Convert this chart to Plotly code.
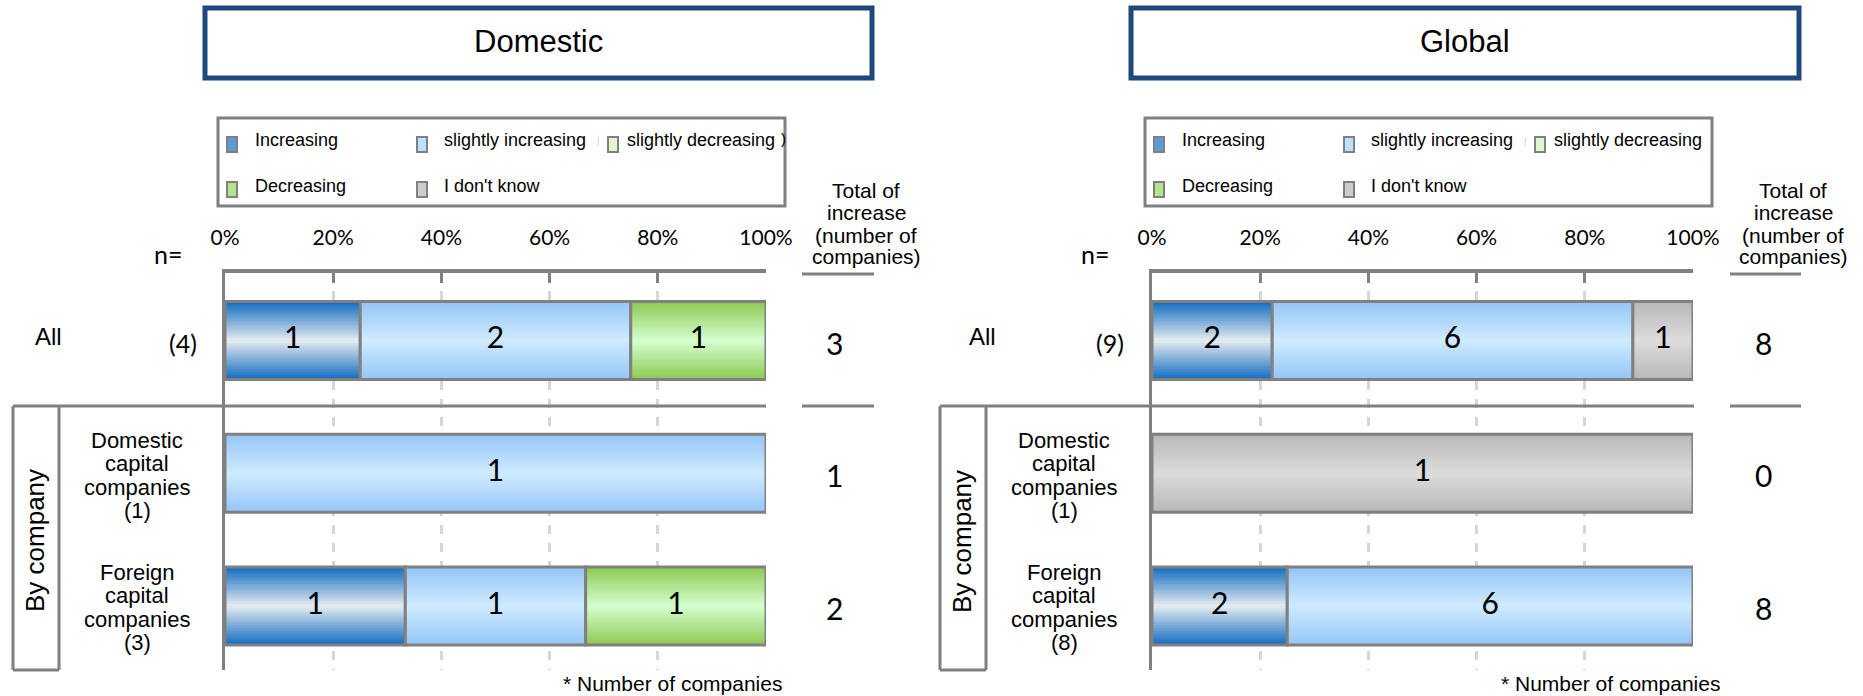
import plotly.graph_objects as go

W, H = 1863, 696

# ---------------- data ----------------
row_labels = ["All", "Domestic capital companies", "Foreign capital companies"]
series_names = ["Increasing", "slightly increasing", "slightly decreasing", "Decreasing", "I don't know"]

dom_increasing = [1, 0, 1]
dom_slightly_increasing = [2, 1, 1]
dom_slightly_decreasing = [0, 0, 0]
dom_decreasing = [1, 0, 1]
dom_dont_know = [0, 0, 0]
dom_n = [4, 1, 3]
dom_total_increase = [3, 1, 2]

glob_increasing = [2, 0, 2]
glob_slightly_increasing = [6, 0, 6]
glob_slightly_decreasing = [0, 0, 0]
glob_decreasing = [0, 0, 0]
glob_dont_know = [1, 1, 0]
glob_n = [9, 1, 8]
glob_total_increase = [8, 0, 8]

tick_values = [0, 20, 40, 60, 80, 100]
tick_labels = ["0%", "20%", "40%", "60%", "80%", "100%"]
panel_titles = ["Domestic", "Global"]

# ---------------- style ----------------
SANS = "Liberation Sans, Arial, sans-serif"
NUM = "Lato, Calibri, sans-serif"
GRAY = "#808080"
# (edge colour, middle colour) of the vertical gradient in each bar
series_colors = [
    ("#1570c1", "#dfe7ef"),
    ("#96c6f7", "#cdeafe"),
    ("#cfeeb0", "#eefbe0"),
    ("#8fcb55", "#d2fdcc"),
    ("#b9b9b9", "#dbdbdb"),
]
legend_fill = ["#5d9bd8", "#bfe0fc", "#e2f5cc", "#b3e58c", "#cccccc"]

row_pos = [0, 1, 2]
BAR_W = 0.588
N_LAYERS = 16


def hex2rgb(h):
    h = h.lstrip("#")
    return tuple(int(h[i:i + 2], 16) for i in (0, 2, 4))


def mix(c1, c2, t):
    a, b = hex2rgb(c1), hex2rgb(c2)
    return "rgb(%d,%d,%d)" % tuple(round(a[i] + (b[i] - a[i]) * t) for i in range(3))


def px(x):
    return x / W


def py(y):
    return 1 - y / H


fig = go.Figure()

panels = [
    dict(series=[dom_increasing, dom_slightly_increasing, dom_slightly_decreasing, dom_decreasing, dom_dont_know],
         n=dom_n, totals=dom_total_increase, xa="x", ya="y"),
    dict(series=[glob_increasing, glob_slightly_increasing, glob_slightly_decreasing, glob_decreasing, glob_dont_know],
         n=glob_n, totals=glob_total_increase, xa="x2", ya="y2"),
]

for p in panels:
    series, n = p["series"], p["n"]
    cum = [0.0] * len(n)
    for si, vals in enumerate(series):
        ys, bases, lens, texts, mids = [], [], [], [], []
        for ri, v in enumerate(vals):
            if v > 0:
                pct = v / n[ri] * 100
                ys.append(row_pos[ri])
                bases.append(cum[ri])
                lens.append(pct)
                texts.append(str(v))
                mids.append(cum[ri] + pct / 2)
                cum[ri] += pct
        if not ys:
            continue
        edge, mid = series_colors[si]
        for k in range(N_LAYERS):
            fig.add_trace(go.Bar(
                orientation="h", y=ys, x=lens, base=bases,
                width=BAR_W * (1 - k / N_LAYERS),
                marker=dict(color=mix(edge, mid, k / (N_LAYERS - 1)), line=dict(width=0)),
                xaxis=p["xa"], yaxis=p["ya"], showlegend=False, hoverinfo="skip"))
        # outline
        fig.add_trace(go.Bar(
            orientation="h", y=ys, x=lens, base=bases, width=BAR_W,
            marker=dict(color="rgba(0,0,0,0)", line=dict(color=GRAY, width=3)),
            xaxis=p["xa"], yaxis=p["ya"], showlegend=False, name=series_names[si],
            hovertemplate="%{x:.1f}%<extra>" + series_names[si] + "</extra>"))
        fig.add_trace(go.Scatter(
            x=mids, y=ys, mode="text", text=texts,
            textfont=dict(family=NUM, size=30, color="black"),
            xaxis=p["xa"], yaxis=p["ya"], showlegend=False, hoverinfo="skip"))

Y_TOP, Y_BOT = 273, 670
ROW0, ROW_STEP = 340.5, 132.75
yrange = [(Y_BOT - ROW0) / ROW_STEP, (Y_TOP - ROW0) / ROW_STEP]

x_domains = [[px(225), px(766)], [px(1152), px(1693)]]

axis_common_x = dict(
    range=[0, 100], side="top", showline=True, linecolor=GRAY, linewidth=4,
    ticks="inside", ticklen=10, tickwidth=3, tickcolor=GRAY,
    tickvals=tick_values, ticktext=tick_labels,
    tickfont=dict(family=NUM, size=21, color="black"), ticklabelstandoff=16,
    showgrid=True, gridcolor="#d6d6d6", gridwidth=3, griddash="dash",
    zeroline=False, fixedrange=True, automargin=False)
axis_common_y = dict(
    range=yrange, domain=[py(Y_BOT), py(Y_TOP)], showline=True, linecolor=GRAY, linewidth=3,
    showticklabels=False, ticks="", showgrid=False, zeroline=False, fixedrange=True, automargin=False)

fig.update_layout(
    xaxis=dict(domain=x_domains[0], anchor="y", **axis_common_x),
    yaxis=dict(anchor="x", **axis_common_y),
    xaxis2=dict(domain=x_domains[1], anchor="y2", **axis_common_x),
    yaxis2=dict(anchor="x2", **axis_common_y),
)

shapes = []
annotations = []


def ann(x, y, text, size, family=SANS, color="black", xanchor="center", angle=0):
    annotations.append(dict(xref="paper", yref="paper", x=px(x), y=py(y), text=text,
                            showarrow=False, xanchor=xanchor, yanchor="middle", textangle=angle,
                            font=dict(family=family, size=size, color=color)))


def line(x0, y0, x1, y1, color=GRAY, width=3):
    shapes.append(dict(type="line", xref="paper", yref="paper", x0=px(x0), y0=py(y0),
                       x1=px(x1), y1=py(y1), line=dict(color=color, width=width)))


def rect(x0, y0, x1, y1, fill="rgba(0,0,0,0)", color=GRAY, width=3):
    shapes.append(dict(type="rect", xref="paper", yref="paper", x0=px(x0), y0=py(y0),
                       x1=px(x1), y1=py(y1), fillcolor=fill, line=dict(color=color, width=width)))


panel_info = [
    dict(dx=0, n=dom_n, totals=dom_total_increase, title=panel_titles[0], note_x=672, hdr_x=866,
         tot_x=834, axis_r=766, ul=(802, 874), title_box=(205, 872), legend_box=(218, 785),
         all_x=48, extra=True),
    dict(dx=927, n=glob_n, totals=glob_total_increase, title=panel_titles[1], note_x=1610, hdr_x=1793,
         tot_x=1763, axis_r=1694, ul=(1730, 1801), title_box=(1131, 1799), legend_box=(1145, 1712),
         all_x=982, extra=False),
]

label_lines = [["Domestic", "capital", "companies"], ["Foreign", "capital", "companies"]]

for pi in panel_info:
    dx = pi["dx"]
    # title box
    rect(pi["title_box"][0], 8, pi["title_box"][1], 78, color="#1f497d", width=5)
    ann((pi["title_box"][0] + pi["title_box"][1]) / 2, 41, pi["title"], 31)
    # legend box
    rect(pi["legend_box"][0], 118, pi["legend_box"][1], 206, color=GRAY, width=3)
    sq_x = [227, 417, 608]
    txt_x = [253, 442, 625]
    rows_y = [144.5, 189.5]
    txt_y = [140, 186]
    order = [(0, 0, 0), (1, 1, 0), (2, 2, 0), (3, 0, 1), (4, 1, 1)]
    for si, col, row in order:
        x0 = sq_x[col] + dx
        rect(x0, rows_y[row] - 7.5, x0 + 10, rows_y[row] + 7.5, fill=legend_fill[si], color=GRAY, width=2)
        ann(txt_x[col] + dx, txt_y[row], series_names[si], 18, xanchor="left")
    ann(598 + dx, 141, "|", 9, color="#c8c8c8")
    if pi["extra"]:
        ann(783 + dx, 138, ")", 15)
    # header of totals
    for k, t in enumerate(["Total of", "increase", "(number of", "companies)"]):
        ann(pi["hdr_x"], 191 + 22 * k, t, 21)
    line(pi["ul"][0], 274, pi["ul"][1], 274, width=3)
    # n=
    ann(168 + dx, 254, "n=", 25, family=NUM)
    # row labels
    ann(pi["all_x"], 336, row_labels[0], 24)
    ann(183 + dx, 343, "(%d)" % pi["n"][0], 25, family=NUM)
    for gi, base_y in enumerate([440, 572]):
        lines_ = label_lines[gi] + ["(%d)" % pi["n"][gi + 1]]
        for k, t in enumerate(lines_):
            ann(137 + dx, base_y + 23.5 * k, t, 22)
    # totals
    for ri in range(3):
        ann(pi["tot_x"], ROW0 + ROW_STEP * row_pos[ri] + 2, str(pi["totals"][ri]), 30, family=NUM)
    # separators and "By company" box
    line(13 + dx, 406, pi["axis_r"], 406)
    line(pi["ul"][0], 406, pi["ul"][1], 406)
    line(13 + dx, 406, 13 + dx, 670)
    line(59 + dx, 406, 59 + dx, 670)
    line(13 + dx, 670, 59 + dx, 670)
    ann(35 + dx, 541, "By company", 26, angle=-90)
    # note
    ann(pi["note_x"], 683, "* Number of companies", 21)

fig.update_layout(
    width=W, height=H, margin=dict(l=0, r=0, t=0, b=0, pad=0, autoexpand=False),
    paper_bgcolor="white", plot_bgcolor="white",
    barmode="overlay", showlegend=False,
    shapes=shapes, annotations=annotations,
)

fig.write_html(
    "out.html",
    config={"responsive": False, "displayModeBar": False},
    post_script="document.body.style.margin='0';document.body.style.overflow='hidden';",
)
